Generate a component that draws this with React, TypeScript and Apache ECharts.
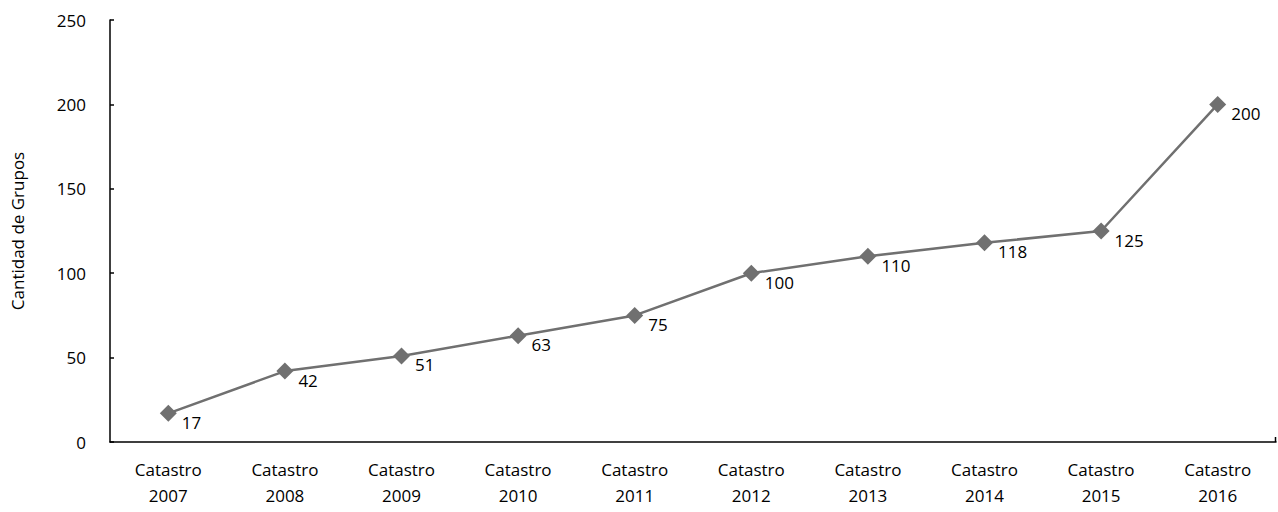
import React, { useEffect, useRef } from "react";
import * as echarts from "echarts";

const categories = [
  "Catastro\n2007", "Catastro\n2008", "Catastro\n2009", "Catastro\n2010", "Catastro\n2011",
  "Catastro\n2012", "Catastro\n2013", "Catastro\n2014", "Catastro\n2015", "Catastro\n2016",
];
const values = [17, 42, 51, 63, 75, 100, 110, 118, 125, 200];
const yTicks = { min: 0, max: 250, interval: 50 };
const yName = "Cantidad de Grupos";

const FONT = "'Open Sans', 'Noto Sans', sans-serif";

export default function App() {
  const ref = useRef<HTMLDivElement>(null);
  useEffect(() => {
    if (!ref.current) return;
    const chart = echarts.init(ref.current, undefined, { renderer: "svg" });
    chart.setOption({
      animation: false,
      textStyle: { fontFamily: FONT },
      grid: { left: 110, right: 2, top: 20, bottom: 70 },
      graphic: [
        {
          type: "line",
          shape: { x1: 1275.5, y1: 437, x2: 1275.5, y2: 442 },
          style: { stroke: "#000", lineWidth: 1.5 },
        },
      ],
      xAxis: {
        type: "category",
        data: categories,
        boundaryGap: true,
        axisLine: { lineStyle: { color: "#000", width: 1.5 } },
        axisTick: { show: false },
        axisLabel: { color: "#000", fontSize: 17, fontFamily: FONT, margin: 14, lineHeight: 26, interval: 0 },
      },
      yAxis: {
        type: "value",
        min: yTicks.min,
        max: yTicks.max,
        interval: yTicks.interval,
        name: yName,
        nameLocation: "middle",
        nameGap: 84,
        nameTextStyle: { color: "#000", fontSize: 17, fontFamily: FONT },
        splitLine: { show: false },
        axisLine: { show: true, lineStyle: { color: "#000", width: 1.5 } },
        axisTick: { show: true, inside: true, length: 4, lineStyle: { color: "#000", width: 1.5 } },
        axisLabel: { color: "#000", fontSize: 17, fontFamily: FONT, margin: 24 },
      },
      series: [
        {
          type: "line",
          data: values,
          symbol: "diamond",
          symbolSize: 17,
          lineStyle: { color: "#707070", width: 2.5 },
          itemStyle: { color: "#707070" },
          label: {
            show: true,
            position: "right",
            distance: 5,
            offset: [0, 9],
            color: "#000",
            fontSize: 17,
            fontFamily: FONT,
          },
        },
      ],
    });
    return () => chart.dispose();
  }, []);
  return (
    <div
      ref={ref}
      style={{ position: "absolute", left: 0, top: 0, width: 1278, height: 512 }}
    />
  );
}
